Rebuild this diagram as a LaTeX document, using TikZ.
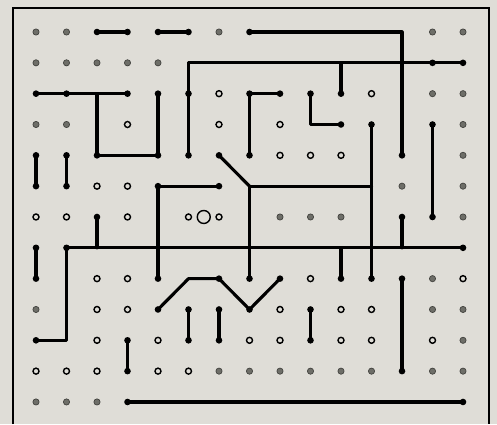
\documentclass[tikz,border=0pt]{standalone}
\usetikzlibrary{calc}
\definecolor{paper}{RGB}{223,221,215}
\definecolor{dotgray}{RGB}{110,110,104}
\begin{document}
\begin{tikzpicture}[x=1pt,y=-1pt,
  wire/.style={line width=3.1pt, line cap=round, line join=round},
  framew/.style={line width=2pt},
  bdot/.style={circle, fill=black, inner sep=0pt, minimum size=6.6pt},
  gdot/.style={circle, fill=dotgray, draw=dotgray!60!black, line width=0.7pt, inner sep=0pt, minimum size=6.2pt},
  rdot/.style={circle, draw=black, fill=paper, line width=1.4pt, inner sep=0pt, minimum size=6pt},
  bigring/.style={circle, draw=black, line width=1.4pt, inner sep=0pt, minimum size=13pt}]
\fill[paper] (0,0) rectangle (497,424);
\useasboundingbox (0,0) rectangle (497,424);
\foreach \c in {0,...,14}{\foreach \r in {0,...,12}{
  \coordinate (g-\c-\r) at ({36+30.5*\c},{32+30.83*\r});}}
% frame
\coordinate (f1) at (13,424);
\coordinate (f2) at (13,8);
\coordinate (f3) at (489,8);
\coordinate (f4) at (489,424);
\draw[framew] (f1) -- (f2) -- (f3) -- (f4);
% wires
\draw[wire] (g-2-0) -- (g-3-0);
\draw[wire] (g-4-0) -- (g-5-0);
\draw[wire] (g-7-0) -- (g-12-0) -- (g-12-4);
\draw[wire] (g-14-1) -- (g-5-1) -- (g-5-4);
\draw[wire] (g-10-1) -- (g-10-2);
\draw[wire] (g-0-2) -- (g-3-2);
\draw[wire] (g-2-2) -- (g-2-4) -- (g-4-4) -- (g-4-2);
\draw[wire] (g-8-2) -- (g-7-2) -- (g-7-4);
\draw[wire] (g-9-2) -- (g-9-3) -- (g-10-3);
\draw[wire] (g-11-3) -- (g-11-8);
\draw[wire] (g-13-3) -- (g-13-6);
\draw[wire] (g-0-4) -- (g-0-5);
\draw[wire] (g-1-4) -- (g-1-5);
\draw[wire] (g-6-4) -- (g-7-5);
\draw[wire] (g-6-5) -- (g-4-5) -- (g-4-8);
\draw[wire] (g-7-8) -- (g-7-5) -- (g-11-5);
\draw[wire] (g-2-6) -- (g-2-7);
\draw[wire] (g-12-6) -- (g-12-7);
\draw[wire] (g-0-10) -- (g-1-10) -- (g-1-7) -- (g-14-7);
\draw[wire] (g-0-7) -- (g-0-8);
\draw[wire] (g-10-7) -- (g-10-8);
\draw[wire] (g-12-8) -- (g-12-11);
\draw[wire] (g-4-9) -- (g-5-8) -- (g-6-8) -- (g-7-9) -- (g-8-8);
\draw[wire] (g-5-9) -- (g-5-10);
\draw[wire] (g-6-9) -- (g-6-10);
\draw[wire] (g-9-9) -- (g-9-10);
\draw[wire] (g-3-10) -- (g-3-11);
\draw[wire] (g-3-12) -- (g-14-12);
% gray dots
\foreach \c/\r in {0/0,1/0,6/0,13/0,14/0,0/1,1/1,2/1,3/1,4/1,13/2,14/2,0/3,1/3,14/3,14/4,12/5,14/5,8/6,9/6,10/6,14/6,13/8,0/9,13/9,14/9,14/10,6/11,7/11,8/11,9/11,10/11,11/11,13/11,14/11,0/12,1/12,2/12}
  \node[gdot] (gd-\c-\r) at (g-\c-\r) {};
% rings
\foreach \c/\r in {6/2,11/2,3/3,6/3,8/3,8/4,9/4,10/4,2/5,3/5,0/6,1/6,3/6,5/6,6/6,2/8,3/8,9/8,14/8,2/9,3/9,8/9,10/9,11/9,2/10,4/10,7/10,8/10,10/10,11/10,13/10,0/11,1/11,2/11,4/11,5/11}
  \node[rdot] (rd-\c-\r) at (g-\c-\r) {};
\node[bigring] (big) at ($(g-5-6)!0.5!(g-6-6)$) {};
% black dots
\foreach \c/\r in {2/0,3/0,4/0,5/0,7/0,14/1,13/1,10/2,0/2,1/2,3/2,4/2,5/2,7/2,8/2,9/2,10/3,11/3,13/3,0/4,1/4,2/4,4/4,5/4,6/4,7/4,12/4,0/5,1/5,4/5,6/5,2/6,12/6,13/6,0/7,1/7,14/7,0/8,4/8,6/8,7/8,8/8,10/8,11/8,12/8,4/9,5/9,6/9,7/9,9/9,0/10,3/10,5/10,6/10,9/10,3/11,12/11,3/12,14/12}
  \node[bdot] (bd-\c-\r) at (g-\c-\r) {};
\end{tikzpicture}
\end{document}
